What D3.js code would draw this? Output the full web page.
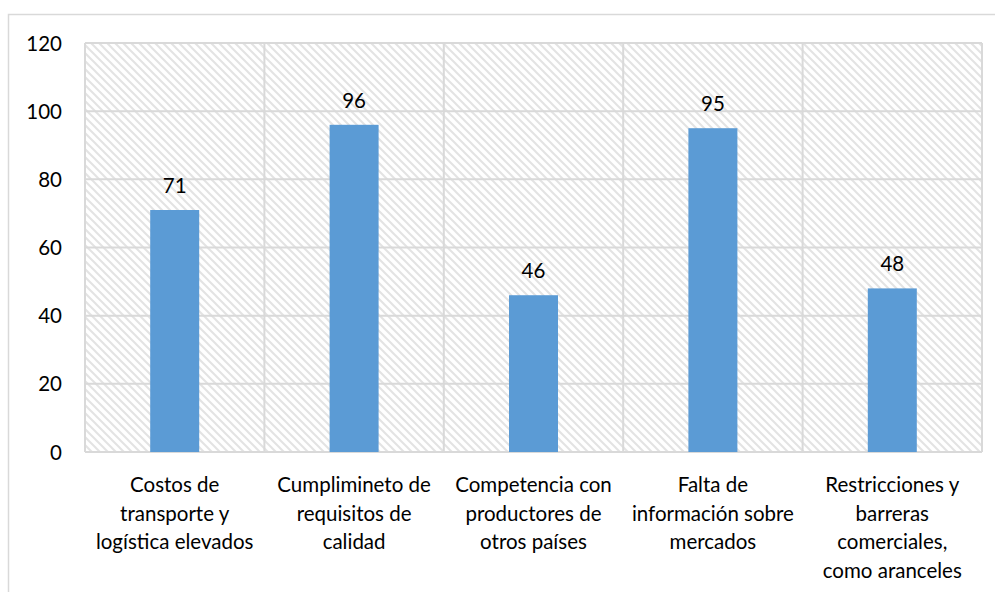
<!DOCTYPE html>
<html><head><meta charset="utf-8">
<script src="https://cdn.jsdelivr.net/npm/d3@7"></script>
<style>html,body{margin:0;padding:0;background:#fff;}svg{display:block;}</style>
</head><body>
<script>
const categories = [
  ["Costos de","transporte y","logística elevados"],
  ["Cumplimineto de","requisitos de","calidad"],
  ["Competencia con","productores de","otros países"],
  ["Falta de","información sobre","mercados"],
  ["Restricciones y","barreras","comerciales,","como aranceles"]
];
const values = [71, 96, 46, 95, 48];
const yTicks = [0, 20, 40, 60, 80, 100, 120];

const W = 995, H = 592;
const m = {left: 85, top: 43, right: 982, bottom: 452};
const font = "Lato, 'Open Sans', sans-serif";
const fs = 20.5;

const svg = d3.select("body").append("svg").attr("width", W).attr("height", H);
const defs = svg.append("defs");
const pat = defs.append("pattern").attr("id","hatch").attr("patternUnits","userSpaceOnUse")
  .attr("width",8).attr("height",8);
pat.append("rect").attr("width",8).attr("height",8).attr("fill","#fff");
pat.append("path").attr("d","M-2,-2 L10,10 M-2,6 L2,10 M6,-2 L10,2")
  .attr("stroke","#e3e3e3").attr("stroke-width",2);

svg.append("rect").attr("x",8.5).attr("y",14.5).attr("width",W).attr("height",H)
  .attr("fill","#fff").attr("stroke","#d9d9d9").attr("stroke-width",1.5);

const x = d3.scaleBand().domain(d3.range(values.length)).range([m.left, m.right]).paddingInner(0).paddingOuter(0);
const y = d3.scaleLinear().domain([0,120]).range([m.bottom, m.top]);

svg.append("rect").attr("x",m.left).attr("y",m.top).attr("width",m.right-m.left).attr("height",m.bottom-m.top)
  .attr("fill","url(#hatch)");

const g = svg.append("g");
g.selectAll("line.h").data(yTicks).join("line")
  .attr("x1",m.left).attr("x2",m.right).attr("y1",d=>y(d)).attr("y2",d=>y(d))
  .attr("stroke","#d9d9d9").attr("stroke-width",2);
const bounds = d3.range(values.length+1).map(i => i < values.length ? x(i) : x(values.length-1)+x.bandwidth());
g.selectAll("line.v").data(bounds).join("line")
  .attr("x1",d=>d).attr("x2",d=>d).attr("y1",m.top).attr("y2",m.bottom)
  .attr("stroke","#d9d9d9").attr("stroke-width",2);

const bw = 49;
svg.selectAll("rect.bar").data(values).join("rect").attr("class","bar")
  .attr("x",(d,i)=>x(i)+x.bandwidth()/2-bw/2).attr("width",bw)
  .attr("y",d=>y(d)).attr("height",d=>y(0)-y(d)).attr("fill","#5b9bd5");

svg.selectAll("text.val").data(values).join("text")
  .attr("x",(d,i)=>x(i)+x.bandwidth()/2).attr("y",d=>y(d)-17)
  .attr("text-anchor","middle").attr("font-family",font).attr("font-size",fs).attr("fill","#000")
  .text(d=>d);

svg.selectAll("text.yt").data(yTicks).join("text")
  .attr("x",62).attr("y",d=>y(d)+7.5).attr("text-anchor","end")
  .attr("font-family",font).attr("font-size",fs).attr("fill","#000").text(d=>d);

categories.forEach((lines,i)=>{
  const t = svg.append("text").attr("x",x(i)+x.bandwidth()/2).attr("y",492)
    .attr("text-anchor","middle").attr("font-family",font).attr("font-size",fs).attr("fill","#000");
  lines.forEach((l,j)=>t.append("tspan").attr("x",x(i)+x.bandwidth()/2).attr("dy",j?28.5:0).text(l));
});
</script>
</body></html>
